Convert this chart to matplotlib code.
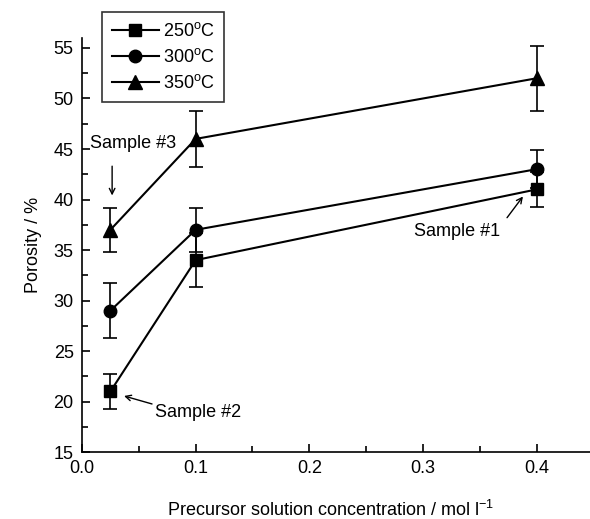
import matplotlib
matplotlib.use("Agg")
import matplotlib.pyplot as plt
from matplotlib.ticker import MultipleLocator

plt.rcParams['font.family'] = ['Liberation Sans', 'DejaVu Sans']

conc = [0.025, 0.1, 0.4]
p250 = [21, 34, 41]
p300 = [29, 37, 43]
p350 = [37, 46, 52]
e250 = [1.7, 2.7, 1.7]
e300 = [2.7, 2.2, 1.9]
e350 = [2.2, 2.8, 3.2]
labels = ['250$^{\\mathregular{o}}$C', '300$^{\\mathregular{o}}$C', '350$^{\\mathregular{o}}$C']

fig = plt.figure(figsize=(5.9, 5.19), dpi=100)
ax = fig.add_axes([0.139, 0.129, 0.861, 0.798])

series = [(p250, e250, 's', 8.5), (p300, e300, 'o', 9), (p350, e350, '^', 10)]
handles = []
for (vals, errs, m, ms), lab in zip(series, labels):
    ax.errorbar(conc, vals, yerr=errs, fmt='none', ecolor='black', elinewidth=1.2,
                capsize=5, capthick=1.2, zorder=2)
    h, = ax.plot(conc, vals, color='black', lw=1.5, marker=m, markersize=ms,
                 markerfacecolor='black', markeredgecolor='black', label=lab, zorder=3)
    handles.append(h)

ax.set_xlim(0, 0.447)
ax.set_ylim(15, 56)
ax.xaxis.set_major_locator(MultipleLocator(0.1))
ax.xaxis.set_minor_locator(MultipleLocator(0.05))
ax.yaxis.set_major_locator(MultipleLocator(5))
ax.yaxis.set_minor_locator(MultipleLocator(2.5))
ax.xaxis.set_major_formatter(plt.FuncFormatter(lambda v, p: f"{v:.1f}"))
ax.tick_params(which='major', direction='in', length=6, width=1.2, labelsize=13, pad=6)
ax.tick_params(which='minor', direction='in', length=4, width=1.2)
for s in ['top', 'right']:
    ax.spines[s].set_visible(False)
for s in ['left', 'bottom']:
    ax.spines[s].set_linewidth(1.2)

ax.set_ylabel('Porosity / %', fontsize=13, labelpad=8)
fig.text(0.56, 0.018, 'Precursor solution concentration / mol l$^{\\mathregular{-1}}$',
         ha='center', va='center', fontsize=13)

arrow = dict(arrowstyle='->', color='black', lw=1, shrinkA=0, shrinkB=0)
ax.text(0.007, 45.5, 'Sample #3', fontsize=13, ha='left', va='center')
ax.annotate('', xy=(0.0265, 40.4), xytext=(0.0265, 43.3), arrowprops=arrow)
ax.text(0.064, 18.9, 'Sample #2', fontsize=13, ha='left', va='center')
ax.annotate('', xy=(0.037, 20.55), xytext=(0.0616, 19.76), arrowprops=arrow)
ax.text(0.330, 36.8, 'Sample #1', fontsize=13, ha='center', va='center')
ax.annotate('', xy=(0.388, 40.3), xytext=(0.374, 38.2), arrowprops=arrow)

leg = fig.legend(handles=handles, loc='upper left', bbox_to_anchor=(0.173, 0.977),
                 borderaxespad=0, frameon=True, fancybox=False, edgecolor='black',
                 fontsize=13, handlelength=2.6, borderpad=0.55, labelspacing=0.45,
                 handletextpad=0.2)
leg.get_frame().set_linewidth(1.2)

fig.savefig('out.png', dpi=100)
